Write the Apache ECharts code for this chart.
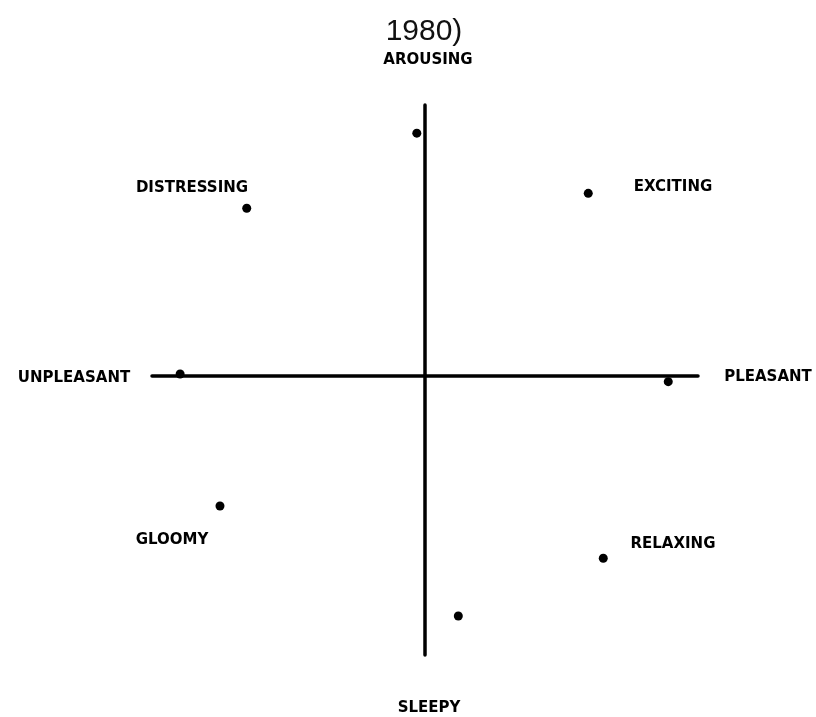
<!DOCTYPE html>
<html>
<head>
<meta charset="utf-8">
<script src="https://cdn.jsdelivr.net/npm/echarts@6/dist/echarts.min.js"></script>
<style>
    html, body { margin: 0; padding: 0; background: #fff; }
    #chart { width: 816px; height: 717px; }
</style>
</head>
<body>
<div id="chart"></div>
<script>
// affect words round the circle
var labelNames = ['AROUSING', 'DISTRESSING', 'EXCITING', 'UNPLEASANT', 'PLEASANT', 'GLOOMY', 'RELAXING', 'SLEEPY'];
// plotted points (pleasure, arousal), roughly -1..1
var pointX = [-0.03, -0.653, 0.598, -0.897, 0.891, -0.751, 0.653, 0.122];
var pointY = [0.896, 0.619, 0.674, 0.007, -0.021, -0.480, -0.673, -0.886];

var titleText = '1980)';

var myChart = echarts.init(document.getElementById('chart'));

// where each word sits on the page
var labelPos = [
    [428, 60], [192, 188], [673, 187], [74, 378],
    [768, 377], [172, 540], [673, 544], [429, 708]
];

var points = [];
for (var i = 0; i < pointX.length; i++) {
    points.push([pointX[i], pointY[i]]);
}

var texts = [];
for (var j = 0; j < labelNames.length; j++) {
    texts.push({
        type: 'text',
        x: labelPos[j][0],
        y: labelPos[j][1],
        style: {
            text: labelNames[j],
            fill: '#000',
            font: 'bold 15px "DejaVu Sans"',
            textAlign: 'center',
            textVerticalAlign: 'middle'
        }
    });
}

var option = {
    animation: false,
    backgroundColor: '#fff',
    title: {
        text: titleText,
        left: 419,
        top: 12,
        textAlign: 'center',
        textStyle: {
            fontFamily: 'Liberation Sans',
            fontWeight: 'normal',
            fontSize: 30,
            color: '#111'
        }
    },
    graphic: texts,
    grid: {
        left: 152,
        right: 118,
        top: 105,
        bottom: 62
    },
    xAxis: {
        type: 'value',
        min: -1,
        max: 1,
        axisLine: {show: true, onZero: true, lineStyle: {color: '#000', width: 3.5}},
        axisTick: {show: false},
        axisLabel: {show: false},
        splitLine: {show: false}
    },
    yAxis: {
        type: 'value',
        min: -1.03,
        max: 1,
        axisLine: {show: true, onZero: true, lineStyle: {color: '#000', width: 3.5}},
        axisTick: {show: false},
        axisLabel: {show: false},
        splitLine: {show: false}
    },
    series: [
        {
            type: 'scatter',
            symbol: 'circle',
            symbolSize: 9,
            itemStyle: {color: '#000', opacity: 1},
            data: points
        }
    ]
};

myChart.setOption(option);

window.addEventListener('resize', function () {
    myChart.resize();
});
</script>
</body>
</html>
